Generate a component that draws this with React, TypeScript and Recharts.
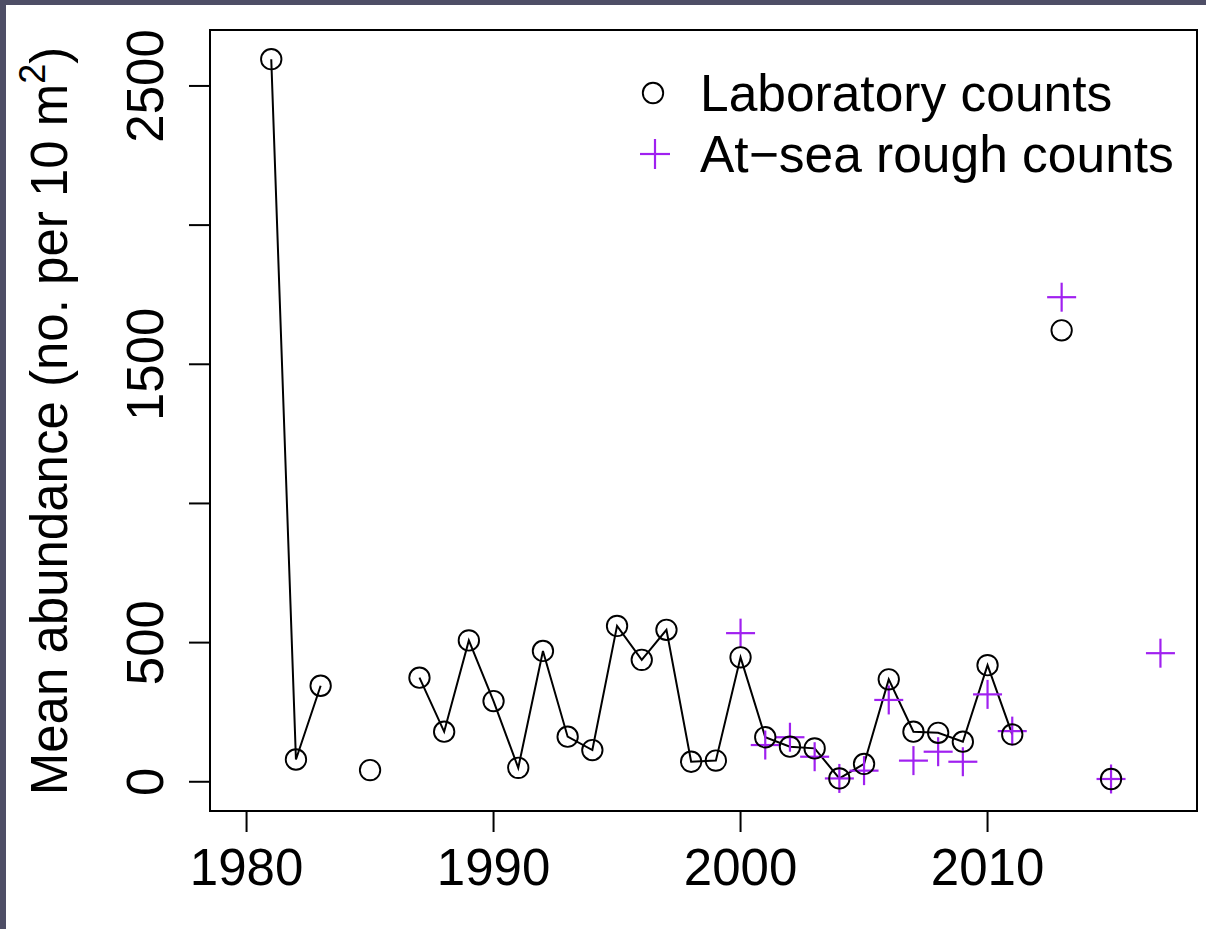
import React from 'react';
import { ComposedChart, Line, Scatter, XAxis, YAxis, ReferenceArea, Legend } from 'recharts';

const labYears = [1981, 1982, 1983, 1984, 1985, 1986, 1987, 1988, 1989, 1990, 1991, 1992, 1993, 1994, 1995, 1996, 1997, 1998, 1999, 2000, 2001, 2002, 2003, 2004, 2005, 2006, 2007, 2008, 2009, 2010, 2011, 2012, 2013, 2014, 2015];
const labCounts: (number | null)[] = [2596, 80, 345, null, 42, null, 374, 180, 508, 290, 50, 470, 162, 114, 560, 438, 546, 72, 76, 447, 160, 126, 120, 12, 64, 368, 180, 176, 144, 419, 170, null, 1622, null, 10];

const seaYears = [2000, 2001, 2002, 2003, 2004, 2005, 2006, 2007, 2008, 2009, 2010, 2011, 2013, 2015, 2017];
const seaCounts = [534, 132, 160, 90, 12, 40, 294, 76, 108, 72, 314, 182, 1741, 10, 462];

const xTicks = [1980, 1990, 2000, 2010];
const yTicks = [0, 500, 1000, 1500, 2000, 2500];
const yLabelled = [0, 500, 1500, 2500];

const X_DOMAIN: [number, number] = [1978.52, 2018.48];
const Y_DOMAIN: [number, number] = [-105, 2701];

const labData = labYears.map((year, i) => ({ year, lab: labCounts[i] }));
const seaData = seaYears.map((year, i) => ({ year, sea: seaCounts[i] }));

const FONT = '"Liberation Sans", Arial, sans-serif';
const FS = 51;
const PURPLE = '#A020F0';

const CircleDot = (props: any) => {
  const { cx, cy, payload } = props;
  if (payload == null || payload.lab == null || cx == null || cy == null) return null;
  return <circle key={`c-${payload.year}`} cx={cx} cy={cy} r={10.2} fill="none" stroke="#000" strokeWidth={1.9} />;
};

const CrossShape = (props: any) => {
  const { cx, cy } = props;
  if (cx == null || cy == null) return null;
  const h = 14.5;
  return (
    <g>
      <line x1={cx - h} y1={cy} x2={cx + h} y2={cy} stroke={PURPLE} strokeWidth={2.2} />
      <line x1={cx} y1={cy - h} x2={cx} y2={cy + h} stroke={PURPLE} strokeWidth={2.2} />
    </g>
  );
};

const YTick = (props: any) => {
  const { y, payload } = props;
  if (!yLabelled.includes(payload.value)) return null;
  return (
    <text x={163} y={y} transform={`rotate(-90, 163, ${y})`} textAnchor="middle" fontFamily={FONT} fontSize={FS} fill="#000">
      {payload.value}
    </text>
  );
};

const XTick = (props: any) => {
  const { x, payload } = props;
  return (
    <text x={x} y={885} textAnchor="middle" fontFamily={FONT} fontSize={FS} fill="#000">
      {payload.value}
    </text>
  );
};

const YTitle = () => (
  <text x={67} y={421} transform="rotate(-90, 67, 421)" textAnchor="middle" fontFamily={FONT} fontSize={FS} fill="#000">
    Mean abundance (no. per 10 m
    <tspan fontSize={36} dy={-22}>2</tspan>
    <tspan dy={22}>)</tspan>
  </text>
);

const LegendBox = () => (
  <svg width={600} height={160} style={{ overflow: 'visible' }}>
    <circle cx={53} cy={43} r={10.2} fill="none" stroke="#000" strokeWidth={1.9} />
    <text x={100} y={61} fontFamily={FONT} fontSize={51.5} fill="#000">Laboratory counts</text>
    <line x1={40} y1={104} x2={70} y2={104} stroke={PURPLE} strokeWidth={2.2} />
    <line x1={55} y1={89} x2={55} y2={119} stroke={PURPLE} strokeWidth={2.2} />
    <text x={100} y={122} fontFamily={FONT} fontSize={51.5} fill="#000">At−sea rough counts</text>
  </svg>
);

export default function App() {
  return (
    <div style={{ position: 'absolute', left: 0, top: 0, width: 1206, height: 929, background: '#4e4e66', overflow: 'hidden' }}>
      <div style={{ position: 'absolute', left: 6, top: 5, width: 1200, height: 924, background: '#fff' }} />
      <div style={{ position: 'absolute', left: 0, top: 0 }}>
        <ComposedChart width={1206} height={929} margin={{ top: 30, right: 9, bottom: 0, left: 0 }}>
          <XAxis
            type="number"
            dataKey="year"
            domain={X_DOMAIN}
            ticks={xTicks}
            allowDataOverflow
            height={118}
            axisLine={false}
            tickSize={21}
            tickLine={{ stroke: '#000', strokeWidth: 2 }}
            tick={<XTick />}
            interval={0}
          />
          <YAxis
            type="number"
            domain={Y_DOMAIN}
            ticks={yTicks}
            allowDataOverflow
            width={210}
            axisLine={false}
            tickSize={21}
            tickLine={{ stroke: '#000', strokeWidth: 2 }}
            tick={<YTick />}
            interval={0}
            label={{ content: <YTitle /> }}
          />
          <ReferenceArea x1={X_DOMAIN[0]} x2={X_DOMAIN[1]} y1={Y_DOMAIN[0]} y2={Y_DOMAIN[1]} fill="none" stroke="#000" strokeWidth={2} fillOpacity={0} ifOverflow="visible" />
          <Line
            data={labData}
            dataKey="lab"
            type="linear"
            stroke="#000"
            strokeWidth={2}
            connectNulls={false}
            dot={<CircleDot />}
            activeDot={false}
            isAnimationActive={false}
            legendType="none"
          />
          <Scatter data={seaData} dataKey="sea" shape={<CrossShape />} isAnimationActive={false} legendType="none" />
          <Legend
            layout="horizontal"
            verticalAlign="middle"
            align="center"
            content={<LegendBox />}
            wrapperStyle={{ left: 600, top: 50, width: 600, height: 160 }}
          />
        </ComposedChart>
      </div>
    </div>
  );
}
